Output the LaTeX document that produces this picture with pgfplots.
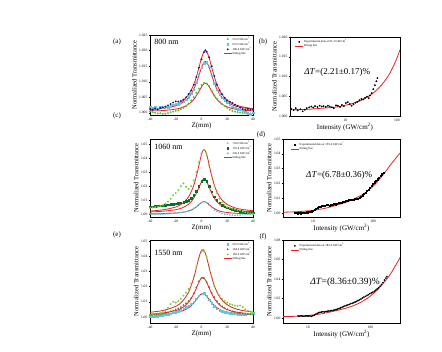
\documentclass[border=0pt]{standalone}
\usepackage{pgfplots}
\pgfplotsset{compat=1.18}
\usepackage{fontspec}
\setmainfont{Liberation Serif}
\definecolor{fitred}{RGB}{232,35,35}
\definecolor{agreen}{RGB}{70,200,45}
\definecolor{acyan}{RGB}{90,200,225}
\definecolor{anavy}{RGB}{25,25,140}
\definecolor{cdark}{RGB}{10,110,40}
\definecolor{clight}{RGB}{120,205,50}
\definecolor{eolive}{RGB}{110,110,35}
\pgfplotsset{
 panel/.style={scale only axis, anchor=south west,
  axis line style={line width=0.5pt},
  tick align=outside, xtick pos=left, ytick pos=left,
  tick style={line width=0.3pt, black},
  major tick length=1.5pt, minor tick length=0.8pt,
  ticklabel style={font=\fontsize{3.6}{4}\selectfont, inner sep=1pt},
  /pgf/number format/assume math mode=true,
  ylabel style={font=\fontsize{6.5}{7}\selectfont, yshift=-2pt},
  xlabel style={font=\fontsize{7}{8}\selectfont, yshift=2pt},
  legend cell align=left,
  legend style={font=\fontsize{3}{3.4}\selectfont, draw=none, fill=none, inner sep=0.3pt,
    nodes={inner sep=0.4pt}, row sep=-0.6pt, at={(0.99,0.99)}, anchor=north east},
 },
 zaxis/.style={panel, width=103pt, xmin=-40, xmax=40, xtick={-40,-20,0,20,40},
   xlabel={Z(mm)}, ylabel={Normalized Transmittance}},
 iaxis/.style={panel, log ticks with fixed point,
   xlabel={Intensity (GW/cm\textsuperscript{2})}, ylabel={Normalized Transmittance}},
 fit/.style={fitred, line width=0.8pt, smooth, no marks},
 pts/.style={only marks, mark size=0.75pt},
 fitleg/.style={legend image code/.code={\draw[fitred, line width=0.8pt] (0cm,0cm) -- (0.28cm,0cm);}},
 ptleg/.style={legend image code/.code={\draw[##1] plot coordinates {(0.14cm,0cm)};}},
}
\begin{document}
\begin{tikzpicture}
\path[use as bounding box, fill=white] (0pt,0pt) rectangle (442pt,352pt);

% ---------------- (a) 800 nm
\begin{axis}[zaxis, at={(150pt,237pt)}, height=80pt, ymin=0.9993, ymax=1.025,
  ytick={1.000,1.005,1.010,1.015,1.020,1.025},
  yticklabel style={/pgf/number format/.cd,fixed,fixed zerofill,precision=3}]
\addplot[pts, ptleg, mark=*, agreen, mark options={fill=agreen}] coordinates {
(-40,1.0004)(-38,1.0002)(-36,1.0000)(-34,0.9998)(-32,0.9999)(-30,0.9996)(-28,0.9997)(-26,0.9999)(-24,1.0002)(-22,1.0004)(-20,1.0006)(-18,1.0008)(-16,1.0012)(-14,1.0016)(-12,1.0022)(-10,1.0030)(-8,1.0040)(-6,1.0050)(-4,1.0064)(-2,1.0078)(0,1.0090)(2,1.0096)(4,1.0094)(6,1.0086)(8,1.0070)(10,1.0056)(12,1.0046)(14,1.0036)(16,1.0028)(18,1.0022)(20,1.0016)(22,1.0010)(24,1.0006)(26,1.0004)(28,1.0002)(30,1.0001)(32,1.0000)(34,0.9999)(36,0.9998)(38,0.9998)(40,0.9999)};
\addlegendentry{53.2 GW/cm\textsuperscript{2}}
\addplot[pts, ptleg, mark=square*, acyan, mark options={fill=acyan}] coordinates {
(-40,1.0020)(-38,1.0016)(-36,1.0018)(-34,1.0014)(-32,1.0019)(-30,1.0017)(-28,1.0020)(-26,1.0018)(-24,1.0022)(-22,1.0026)(-20,1.0030)(-18,1.0028)(-16,1.0032)(-14,1.0036)(-12,1.0042)(-10,1.0050)(-8,1.0062)(-6,1.0076)(-4,1.0098)(-2,1.0122)(0,1.0145)(2,1.0160)(4,1.0163)(6,1.0148)(8,1.0120)(10,1.0095)(12,1.0075)(14,1.0060)(16,1.0048)(18,1.0040)(20,1.0032)(22,1.0026)(24,1.0020)(26,1.0016)(28,1.0012)(30,1.0010)(32,1.0006)(34,1.0002)(36,0.9998)(38,0.9996)(40,1.0000)};
\addlegendentry{63.5 GW/cm\textsuperscript{2}}
\addplot[pts, ptleg, mark=*, anavy, mark options={fill=anavy}] coordinates {
(-40,1.0012)(-38,1.0010)(-36,1.0014)(-34,1.0011)(-32,1.0016)(-30,1.0018)(-28,1.0020)(-26,1.0024)(-24,1.0028)(-22,1.0033)(-20,1.0037)(-18,1.0036)(-16,1.0038)(-14,1.0042)(-12,1.0050)(-10,1.0060)(-8,1.0072)(-6,1.0090)(-4,1.0115)(-2,1.0145)(0,1.0172)(2,1.0195)(3,1.0201)(4,1.0196)(6,1.0178)(8,1.0150)(10,1.0118)(12,1.0090)(14,1.0072)(16,1.0060)(18,1.0048)(20,1.0040)(22,1.0036)(24,1.0032)(26,1.0026)(28,1.0022)(30,1.0016)(32,1.0012)(34,1.0010)(36,1.0012)(38,1.0010)(40,1.0011)};
\addlegendentry{106.4 GW/cm\textsuperscript{2}}
\addplot[fit, fitleg] coordinates {
(-40,1.00062)(-30,1.00072)(-20,1.0012)(-15,1.00173)(-10,1.00276)(-6,1.0043)(-3,1.00615)(0,1.00836)(2,1.00936)(3,1.0095)(4,1.00936)(6,1.00836)(9,1.00615)(12,1.0043)(16,1.00276)(21,1.00173)(26,1.0012)(32,1.00086)(40,1.00062)};
\addlegendentry{Fitting line}
\addplot[fit, forget plot] coordinates {
(-40,1.00104)(-30,1.00139)(-20,1.00223)(-15,1.00314)(-10,1.0049)(-6,1.00756)(-3,1.01074)(0,1.01453)(2,1.01626)(3,1.0165)(4,1.01626)(6,1.01453)(9,1.01074)(12,1.00756)(16,1.0049)(21,1.00314)(26,1.00223)(32,1.00163)(40,1.00122)};
\addplot[fit, forget plot] coordinates {
(-40,1.00115)(-30,1.00158)(-20,1.0026)(-15,1.00372)(-10,1.00586)(-6,1.0091)(-3,1.01298)(0,1.0176)(2,1.0197)(3,1.0200)(4,1.0197)(6,1.0176)(9,1.01298)(12,1.0091)(16,1.00586)(21,1.00372)(26,1.0026)(32,1.00188)(40,1.00137)};
\node[anchor=north west, font=\fontsize{8}{9}\selectfont, inner sep=0pt] at (rel axis cs:0.04,0.95) {800 nm};
\end{axis}

% ---------------- (b)
\begin{axis}[xmode=log, iaxis, at={(290pt,236pt)}, width=110pt, height=79pt, xmin=0.85, xmax=115,
  xtick={10,100}, ymin=1.000, ymax=1.020,
  ytick={1.000,1.005,1.010,1.015,1.020},
  yticklabel style={/pgf/number format/.cd,fixed,fixed zerofill,precision=3},
  legend style={at={(0.04,0.98)}, anchor=north west}]
\addplot[pts, ptleg, mark=*, black, mark size=0.7pt] coordinates {
(0.9,1.0018)(1.0,1.0015)(1.1,1.0020)(1.2,1.0014)(1.35,1.0017)(1.5,1.0012)(1.65,1.0016)(1.8,1.0020)(2.0,1.0022)(2.2,1.0024)(2.4,1.0021)(2.6,1.0025)(2.9,1.0023)(3.2,1.0026)(3.5,1.0024)(3.8,1.0025)(4.2,1.0023)(4.6,1.0026)(5.0,1.0024)(5.5,1.0022)(6.0,1.0020)(6.6,1.0027)(7.2,1.0026)(7.9,1.0023)(8.6,1.0028)(9.4,1.0025)(10.3,1.0033)(11.2,1.0035)(12.2,1.0030)(13.3,1.0026)(14.5,1.0030)(15.8,1.0034)(17.2,1.0036)(18.8,1.0040)(20.5,1.0043)(22.3,1.0042)(24.3,1.0046)(26.5,1.0049)(28.5,1.0045)(30,1.0052)(32.5,1.0058)(35,1.0068)(37.5,1.0078)(40,1.0088)(42,1.0096)};
\addlegendentry{Experimental data at 91.2 GW/cm\textsuperscript{2}}
\addplot[fit, fitleg] coordinates {
(0.85,1.0016)(1,1.0016)(2,1.0017)(3,1.0019)(5,1.0021)(7,1.0023)(10,1.0027)(15,1.0033)(20,1.0039)(30,1.0052)(40,1.0065)(50,1.0078)(60,1.0091)(70,1.0104)(80,1.0118)(90,1.0132)(100,1.0146)(115,1.0168)};
\addlegendentry{Fitting line}
\node[font=\fontsize{9}{10}\selectfont, inner sep=0pt] at (rel axis cs:0.43,0.55) {\textit{ΔT}=(2.21±0.17)\%};
\end{axis}

% ---------------- (c) 1060 nm
\begin{axis}[zaxis, at={(150pt,135pt)}, height=78pt, ymin=0.998, ymax=1.0535,
  ytick={1.00,1.01,1.02,1.03,1.04,1.05},
  yticklabel style={/pgf/number format/.cd,fixed,fixed zerofill,precision=2}]
\addplot[pts, ptleg, mark=triangle*, acyan, mark options={fill=acyan}] coordinates {
(-40,1.0002)(-38,1.0000)(-36,0.9998)(-34,1.0000)(-32,0.9999)(-30,1.0001)(-28,1.0002)(-26,1.0003)(-24,1.0005)(-22,1.0006)(-20,1.0008)(-18,1.0010)(-16,1.0012)(-14,1.0015)(-12,1.0018)(-10,1.0022)(-8,1.0030)(-6,1.0040)(-4,1.0052)(-2,1.0068)(0,1.0082)(2,1.0088)(4,1.0080)(6,1.0065)(8,1.0045)(10,1.0030)(12,1.0020)(14,1.0012)(16,1.0005)(18,1.0000)(20,0.9997)(22,0.9995)(24,0.9993)(26,0.9992)(28,0.9993)(30,0.9995)(32,0.9997)(34,0.9998)(36,1.0000)(38,1.0001)(40,1.0000)};
\addlegendentry{74.6 GW/cm\textsuperscript{2}}
\addplot[pts, ptleg, mark=square*, cdark, mark options={fill=cdark}] coordinates {
(-40,1.0055)(-38,1.0052)(-36,1.0058)(-34,1.0060)(-32,1.0062)(-30,1.0060)(-28,1.0065)(-26,1.0068)(-24,1.0070)(-22,1.0072)(-20,1.0075)(-18,1.0078)(-16,1.0080)(-14,1.0085)(-12,1.0092)(-10,1.0100)(-8,1.0115)(-6,1.0135)(-4,1.0165)(-2,1.0200)(0,1.0235)(2,1.0248)(4,1.0235)(6,1.0200)(8,1.0160)(10,1.0125)(12,1.0100)(14,1.0080)(16,1.0065)(18,1.0052)(20,1.0045)(22,1.0040)(24,1.0035)(26,1.0030)(28,1.0025)(30,1.0022)(32,1.0018)(34,1.0015)(36,1.0012)(38,1.0010)(40,1.0010)};
\addlegendentry{155.4 GW/cm\textsuperscript{2}}
\addplot[pts, ptleg, mark=*, clight, mark options={fill=clight}] coordinates {
(-40,1.0045)(-38,1.0048)(-36,1.0050)(-34,1.0052)(-32,1.0058)(-30,1.0065)(-28,1.0075)(-26,1.0090)(-24,1.0110)(-22,1.0135)(-20,1.0150)(-18,1.0170)(-16,1.0200)(-14,1.0220)(-12,1.0195)(-10,1.0180)(-8,1.0200)(-6,1.0240)(-4,1.0300)(-2,1.0370)(0,1.0430)(2,1.0455)(4,1.0420)(6,1.0350)(8,1.0270)(10,1.0200)(12,1.0150)(14,1.0110)(16,1.0085)(18,1.0065)(20,1.0050)(22,1.0045)(24,1.0040)(26,1.0035)(28,1.0030)(30,1.0028)(32,1.0020)(34,1.0015)(36,1.0010)(38,1.0005)(40,1.0003)};
\addlegendentry{226.2 GW/cm\textsuperscript{2}}
\addplot[fit, fitleg] coordinates {
(-40,1.0002)(-30,1.0004)(-20,1.0008)(-15,1.0013)(-10,1.0023)(-6,1.0039)(-3,1.0060)(0,1.0083)(1,1.0088)(2,1.0090)(3,1.0088)(5,1.0076)(8,1.0052)(11,1.0034)(15,1.0020)(20,1.0012)(26,1.0007)(32,1.0005)(40,1.0003)};
\addlegendentry{Fitting line}
\addplot[fit, forget plot] coordinates {
(-40,1.0016)(-30,1.0021)(-20,1.0032)(-15,1.0045)(-10,1.0071)(-6,1.0114)(-3,1.0169)(0,1.0232)(1,1.0245)(2,1.0250)(3,1.0245)(5,1.0213)(8,1.0148)(11,1.0100)(15,1.0064)(20,1.0041)(26,1.0029)(32,1.0022)(40,1.0018)};
\addplot[fit, forget plot] coordinates {
(-40,1.0022)(-30,1.0031)(-20,1.0051)(-15,1.0075)(-10,1.0124)(-6,1.0205)(-3,1.0308)(0,1.0426)(1,1.0451)(2,1.0460)(3,1.0451)(5,1.0390)(8,1.0269)(11,1.0180)(15,1.0111)(20,1.0069)(26,1.0045)(32,1.0033)(40,1.0025)};
\node[anchor=north west, font=\fontsize{8}{9}\selectfont, inner sep=0pt] at (rel axis cs:0.04,0.93) {1060 nm};
\end{axis}

% ---------------- (d)
\begin{axis}[xmode=log, iaxis, at={(283pt,135pt)}, width=117pt, height=78pt, xmin=3.16, xmax=282,
  xtick={10,100}, ymin=0.9973, ymax=1.05,
  ytick={1.00,1.01,1.02,1.03,1.04,1.05},
  yticklabel style={/pgf/number format/.cd,fixed,fixed zerofill,precision=2},
  legend style={at={(0.06,0.97)}, anchor=north west}]
\addplot[pts, ptleg, mark=square*, black, mark size=0.6pt] coordinates {
(5,1.0000)(5.3,1.0002)(5.6,0.9998)(6.0,1.0001)(6.3,0.9999)(6.7,1.0003)(7.1,1.0000)(7.5,1.0004)(8.0,1.0006)(8.5,1.0008)(9.0,1.0010)(9.5,1.0012)(10,1.0018)(10.6,1.0022)(11.2,1.0030)(11.9,1.0035)(12.6,1.0040)(13.3,1.0042)(14.1,1.0048)(15,1.0050)(15.9,1.0052)(16.8,1.0054)(17.8,1.0055)(18.9,1.0052)(20,1.0056)(21.2,1.0058)(22.4,1.0062)(23.7,1.0060)(25.1,1.0065)(26.6,1.0068)(28.2,1.0070)(29.9,1.0072)(31.6,1.0075)(33.5,1.0078)(35.5,1.0082)(37.6,1.0085)(39.8,1.0088)(42.2,1.0090)(44.7,1.0092)(47.3,1.0090)(50.1,1.0094)(53.1,1.0096)(56.2,1.0098)(59.6,1.0102)(63.1,1.0110)(66.8,1.0120)(70.8,1.0128)(75,1.0138)(79.4,1.0148)(84.1,1.0160)(89.1,1.0172)(94.4,1.0185)(100,1.0198)(106,1.0208)(112,1.0218)(119,1.0228)(126,1.0240)(133,1.0252)(141,1.0262)(150,1.0272)};
\addlegendentry{Experimental data at 155.4 GW/cm\textsuperscript{2}}
\addplot[fit, fitleg] coordinates {
(3.16,1.0005)(5,1.0008)(7,1.0012)(10,1.0018)(15,1.0030)(20,1.0042)(30,1.0063)(40,1.0080)(50,1.0098)(70,1.0130)(100,1.0180)(150,1.0262)(200,1.0330)(282,1.0405)};
\addlegendentry{Fitting line}
\node[font=\fontsize{9}{10}\selectfont, inner sep=0pt] at (rel axis cs:0.48,0.53) {\textit{ΔT}=(6.78±0.36)\%};
\end{axis}

% ---------------- (e) 1550 nm
\begin{axis}[zaxis, at={(150pt,29pt)}, height=83pt, ymin=0.996, ymax=1.0507,
  ytick={1.00,1.01,1.02,1.03,1.04,1.05},
  yticklabel style={/pgf/number format/.cd,fixed,fixed zerofill,precision=2}]
\addplot[pts, ptleg, mark=square*, acyan, mark options={fill=acyan}] coordinates {
(-40,1.0005)(-38,1.0003)(-36,1.0006)(-34,1.0004)(-32,1.0008)(-30,1.0010)(-28,1.0014)(-26,1.0018)(-24,1.0022)(-22,1.0028)(-20,1.0032)(-18,1.0038)(-16,1.0045)(-14,1.0055)(-12,1.0065)(-10,1.0075)(-8,1.0088)(-6,1.0100)(-4,1.0120)(-2,1.0140)(0,1.0152)(2,1.0155)(4,1.0140)(6,1.0115)(8,1.0090)(10,1.0070)(12,1.0055)(14,1.0045)(16,1.0038)(18,1.0032)(20,1.0028)(22,1.0025)(24,1.0022)(26,1.0020)(28,1.0018)(30,1.0017)(32,1.0016)(34,1.0018)(36,1.0020)(38,1.0022)(40,1.0025)};
\addlegendentry{59.2 GW/cm\textsuperscript{2}}
\addplot[pts, ptleg, mark=triangle*, eolive, mark options={fill=eolive}] coordinates {
(-40,1.0010)(-38,1.0012)(-36,1.0015)(-34,1.0018)(-32,1.0020)(-30,1.0022)(-28,1.0025)(-26,1.0030)(-24,1.0036)(-22,1.0042)(-20,1.0048)(-18,1.0055)(-16,1.0065)(-14,1.0078)(-12,1.0090)(-10,1.0105)(-8,1.0125)(-6,1.0155)(-4,1.0195)(-2,1.0235)(0,1.0255)(2,1.0255)(4,1.0230)(6,1.0195)(8,1.0160)(10,1.0130)(12,1.0105)(14,1.0085)(16,1.0070)(18,1.0058)(20,1.0050)(22,1.0042)(24,1.0036)(26,1.0032)(28,1.0028)(30,1.0025)(32,1.0022)(34,1.0020)(36,1.0018)(38,1.0016)(40,1.0015)};
\addlegendentry{164.4 GW/cm\textsuperscript{2}}
\addplot[pts, ptleg, mark=*, clight, mark options={fill=clight}] coordinates {
(-40,1.0015)(-38,1.0018)(-36,1.0020)(-34,1.0022)(-32,1.0025)(-30,1.0030)(-28,1.0040)(-26,1.0060)(-24,1.0085)(-22,1.0100)(-20,1.0095)(-18,1.0105)(-16,1.0120)(-14,1.0140)(-12,1.0160)(-10,1.0185)(-8,1.0220)(-6,1.0265)(-4,1.0330)(-2,1.0390)(0,1.0430)(1,1.0440)(2,1.0430)(4,1.0395)(6,1.0330)(8,1.0260)(10,1.0200)(12,1.0165)(14,1.0140)(16,1.0120)(18,1.0105)(20,1.0095)(22,1.0085)(24,1.0080)(26,1.0075)(28,1.0072)(30,1.0075)(32,1.0065)(34,1.0050)(36,1.0040)(38,1.0035)(40,1.0030)};
\addlegendentry{182.4 GW/cm\textsuperscript{2}}
\addplot[fit, fitleg] coordinates {
(-40,1.0015)(-30,1.0019)(-20,1.0028)(-15,1.0039)(-10,1.0060)(-6,1.0092)(-3,1.0126)(-1,1.0146)(0,1.0153)(1,1.0155)(2,1.0153)(4,1.0137)(7,1.0103)(10,1.0074)(14,1.0050)(19,1.0034)(25,1.0025)(32,1.0019)(40,1.0016)};
\addlegendentry{Fitting line}
\addplot[fit, forget plot] coordinates {
(-40,1.0019)(-30,1.0026)(-20,1.0042)(-15,1.0060)(-10,1.0097)(-6,1.0152)(-3,1.0210)(-1,1.0245)(0,1.0256)(1,1.0260)(2,1.0256)(4,1.0229)(7,1.0170)(10,1.0120)(14,1.0079)(19,1.0051)(25,1.0035)(32,1.0026)(40,1.0020)};
\addplot[fit, forget plot] coordinates {
(-40,1.0031)(-30,1.0042)(-20,1.0070)(-15,1.0101)(-10,1.0164)(-6,1.0258)(-3,1.0359)(-1,1.0420)(0,1.0439)(1,1.0445)(2,1.0439)(4,1.0392)(7,1.0290)(10,1.0205)(14,1.0133)(19,1.0086)(25,1.0058)(32,1.0042)(40,1.0032)};
\node[anchor=north west, font=\fontsize{8}{9}\selectfont, inner sep=0pt] at (rel axis cs:0.04,0.88) {1550 nm};
\end{axis}

% ---------------- (f)
\begin{axis}[xmode=log, iaxis, at={(283pt,29pt)}, width=117pt, height=83pt, xmin=4, xmax=300,
  xtick={10,100}, ymin=0.995, ymax=1.08,
  ytick={1.00,1.02,1.04,1.06,1.08},
  yticklabel style={/pgf/number format/.cd,fixed,fixed zerofill,precision=2},
  legend style={at={(0.06,0.97)}, anchor=north west}]
\addplot[pts, ptleg, mark=*, black, mark size=0.65pt] coordinates {
(7.0,1.0022)(7.4,1.0018)(7.8,1.0024)(8.2,1.0020)(8.7,1.0019)(9.2,1.0023)(9.7,1.0021)(10.2,1.0020)(10.8,1.0022)(11.4,1.0018)(12.0,1.0025)(12.7,1.0030)(13.4,1.0040)(14.1,1.0048)(14.9,1.0055)(15.7,1.0060)(16.6,1.0062)(17.5,1.0065)(18.5,1.0062)(19.5,1.0068)(20.6,1.0070)(21.7,1.0072)(22.9,1.0075)(24.2,1.0078)(25.5,1.0080)(26.9,1.0082)(28.4,1.0088)(30,1.0092)(31.7,1.0098)(33.4,1.0105)(35.3,1.0112)(37.2,1.0118)(39.3,1.0125)(41.5,1.0130)(43.8,1.0135)(46.2,1.0140)(48.8,1.0148)(51.5,1.0152)(54.3,1.0158)(57.3,1.0165)(60.5,1.0172)(63.9,1.0180)(67.4,1.0188)(71.1,1.0195)(75.1,1.0205)(79.2,1.0215)(83.6,1.0222)(88.3,1.0230)(93.2,1.0240)(98.3,1.0250)(104,1.0258)(110,1.0265)(116,1.0275)(122,1.0285)(129,1.0298)(136,1.0312)(144,1.0328)(152,1.0345)(160,1.0365)(169,1.0390)(178,1.0410)(185,1.0425)};
\addlegendentry{Experimental data at 182.4 GW/cm\textsuperscript{2}}
\addplot[fit, fitleg] coordinates {
(4,1.0015)(6,1.0018)(8,1.0022)(10,1.0027)(15,1.0040)(20,1.0055)(30,1.0080)(40,1.0100)(50,1.0120)(70,1.0160)(100,1.0225)(140,1.0310)(200,1.0430)(250,1.0530)(300,1.0620)};
\addlegendentry{Fitting line}
\node[font=\fontsize{9.5}{10}\selectfont, inner sep=0pt] at (rel axis cs:0.53,0.49) {\textit{ΔT}=(8.36±0.39)\%};
\end{axis}

% panel letters
\node[font=\fontsize{7}{8}\selectfont] at (117pt,310pt) {(a)};
\node[font=\fontsize{7}{8}\selectfont] at (117pt,236pt) {(c)};
\node[font=\fontsize{7}{8}\selectfont] at (117pt,117pt) {(e)};
\node[font=\fontsize{7}{8}\selectfont] at (263pt,310pt) {(b)};
\node[font=\fontsize{7}{8}\selectfont] at (261pt,217pt) {(d)};
\node[font=\fontsize{7}{8}\selectfont] at (263pt,115pt) {(f)};
\end{tikzpicture}
\end{document}
